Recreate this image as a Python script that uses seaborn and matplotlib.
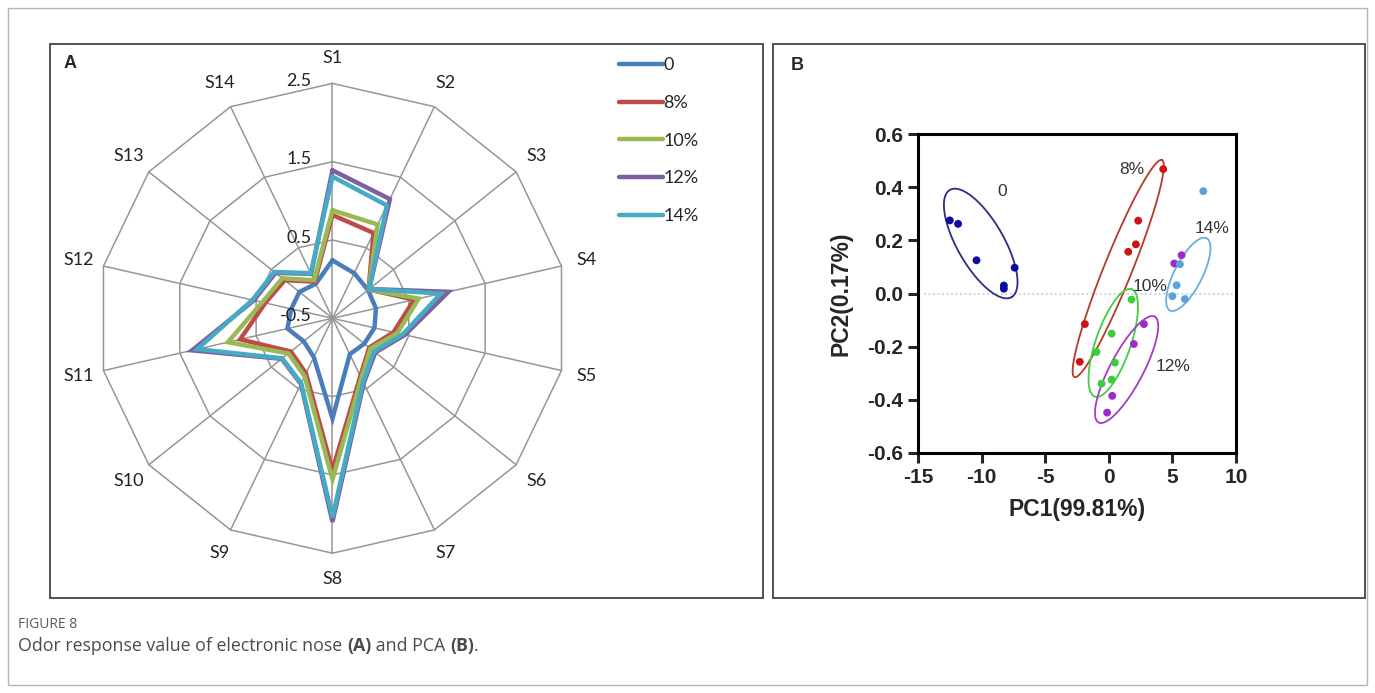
import numpy as np
import pandas as pd
import matplotlib
matplotlib.use("Agg")
import matplotlib.pyplot as plt
from matplotlib.patches import Rectangle
import seaborn as sns

sns.set_style("white")
plt.rcParams['font.family'] = ['Liberation Sans', 'DejaVu Sans']
plt.rcParams['axes.unicode_minus'] = False

# ---- panel A: e-nose radar data ----
sensors = ["S1", "S2", "S3", "S4", "S5", "S6", "S7", "S8", "S9", "S10", "S11", "S12", "S13", "S14"]
groups = ["0", "8%", "10%", "12%", "14%"]
val_0 = [0.24, 0.14, 0.08, 0.07, 0.05, 0.02, 0.01, 0.78, 0.05, -0.03, 0.09, 0.04, 0.04, -0.01]
val_8 = [0.82, 0.71, 0.09, 0.57, 0.30, 0.10, 0.32, 1.44, 0.28, 0.18, 0.71, 0.38, 0.28, 0.02]
val_10 = [0.88, 0.83, 0.09, 0.63, 0.35, 0.12, 0.35, 1.56, 0.32, 0.22, 0.87, 0.42, 0.32, 0.04]
val_12 = [1.39, 1.19, 0.10, 1.02, 0.45, 0.20, 0.42, 2.10, 0.43, 0.33, 1.34, 0.53, 0.43, 0.13]
val_14 = [1.31, 1.10, 0.10, 0.92, 0.42, 0.18, 0.40, 2.04, 0.42, 0.32, 1.27, 0.55, 0.45, 0.14]
ring_vals = [-0.5, 0.5, 1.5, 2.5]
radar_colors = ["#4a7ebb", "#be4b48", "#98b954", "#7d60a0", "#46aac5"]

# ---- panel B: PCA scores ----
pc1_0 = [-12.5, -11.85, -10.4, -8.25, -8.25, -7.4]
pc2_0 = [0.275, 0.262, 0.125, 0.030, 0.018, 0.097]
pc1_8 = [4.28, 2.31, 2.13, 1.53, -1.88, -2.28]
pc2_8 = [0.468, 0.274, 0.185, 0.157, -0.115, -0.257]
pc1_10 = [1.79, 0.22, -0.97, 0.48, 0.22, -0.57]
pc2_10 = [-0.023, -0.151, -0.22, -0.26, -0.324, -0.339]
pc1_12 = [2.76, 1.97, 0.27, -0.13, 5.15, 5.72]
pc2_12 = [-0.115, -0.19, -0.385, -0.448, 0.113, 0.144]
pc1_14 = [7.43, 5.59, 5.33, 5.0, 5.98]
pc2_14 = [0.385, 0.11, 0.031, -0.01, -0.021]
# ellipses: centre (data), semi-axes (fraction of axes box), angle (deg on screen)
ell_cx = [-10.07, 0.74, 0.35, 1.40, 6.25]
ell_cy = [0.188, 0.094, -0.186, -0.286, 0.072]
ell_a = [0.194, 0.367, 0.178, 0.188, 0.127]
ell_b = [0.073, 0.044, 0.055, 0.052, 0.044]
ell_ang = [-60, 68, 71, 62, 63]
lab_x = [-8.36, 1.79, 3.23, 5.02, 8.08]
lab_y = [0.383, 0.467, 0.025, -0.276, 0.245]
pt_colors = ["#0c0c9c", "#cc1414", "#3ccc3c", "#9a2ccc", "#5aa2e0"]
ell_colors = ["#2c2c84", "#b8382a", "#44cc44", "#a43cc4", "#6aaede"]

W, H = 1375, 693
fig = plt.figure(figsize=(W / 100, H / 100), dpi=100)


def px_rect(l, t, r, b):
    return [l / W, 1 - b / H, (r - l) / W, (b - t) / H]


def frame(l, t, r, b, color, lw):
    fig.patches.append(Rectangle((l / W, 1 - b / H), (r - l) / W, (b - t) / H,
                                 transform=fig.transFigure, fill=False,
                                 ec=color, lw=lw))


frame(8, 8, 1367, 685, "#b5b5b5", 1)
frame(50, 44, 763, 598, "#505050", 1.4)
frame(773, 44, 1365, 598, "#505050", 1.4)

# ---- radar ----
axA = fig.add_axes(px_rect(52, 46, 612, 596))
axA.set_xlim(-3.582, 3.570)
axA.set_ylim(-3.547, 3.478)
axA.axis("off")

theta = np.arange(len(sensors)) * 2 * np.pi / len(sensors)
th_closed = np.append(theta, theta[0])
rmin = ring_vals[0]
for rv in ring_vals[1:]:
    r = rv - rmin
    axA.plot(r * np.sin(th_closed), r * np.cos(th_closed), color="#969696", lw=1.1, zorder=1)
rmax = ring_vals[-1] - rmin
for th in theta:
    axA.plot([0, rmax * np.sin(th)], [0, rmax * np.cos(th)], color="#969696", lw=1.1, zorder=1)
for rv in ring_vals:
    axA.text(-0.27, rv - rmin + 0.03, f"{rv:g}", ha="right", va="center",
             fontsize=13, family=["Lato", "DejaVu Sans"], color="#222222", zorder=5)
for name, th in zip(sensors, theta):
    axA.text(3.33 * np.sin(th), 3.33 * np.cos(th), name, ha="center", va="center",
             fontsize=13, family=["Lato", "DejaVu Sans"], color="#222222")

handles = []
for vals, g, c in zip([val_0, val_8, val_10, val_12, val_14], groups, radar_colors):
    r = np.append(np.array(vals), vals[0]) - rmin
    ln, = axA.plot(r * np.sin(th_closed), r * np.cos(th_closed), color=c, lw=3.2,
                   solid_joinstyle="miter", zorder=3, label=g)
    handles.append(ln)

fig.legend(handles, groups, loc="upper left", bbox_to_anchor=(612 / W, 1 - 50 / H),
           frameon=False, handlelength=2.4, handletextpad=0.05,
           labelspacing=1.2, borderaxespad=0,
           prop={"family": ["Lato", "DejaVu Sans"], "size": 13})

fig.text(64 / W, 1 - 64 / H, "A", fontsize=13, weight="bold", va="center")
fig.text(791 / W, 1 - 66 / H, "B", fontsize=13, weight="bold", va="center")

# ---- PCA ----
axB = fig.add_axes(px_rect(918, 134, 1236, 453))
rows = []
for g, xs, ys in zip(groups, [pc1_0, pc1_8, pc1_10, pc1_12, pc1_14],
                     [pc2_0, pc2_8, pc2_10, pc2_12, pc2_14]):
    for x, y in zip(xs, ys):
        rows.append((g, x, y))
df = pd.DataFrame(rows, columns=["group", "PC1", "PC2"])
axB.axhline(0, xmin=0.02, xmax=1, color="#cfcfcf", lw=1.3, ls=(0, (1, 1.5)), zorder=0)
sns.scatterplot(data=df, x="PC1", y="PC2", hue="group", palette=dict(zip(groups, pt_colors)),
                s=32, linewidth=0, legend=False, ax=axB, zorder=3)

t = np.linspace(0, 2 * np.pi, 300)
for cx, cy, a, b, ang, c in zip(ell_cx, ell_cy, ell_a, ell_b, ell_ang, ell_colors):
    phi = np.deg2rad(ang)
    u, v = a * np.cos(t), b * np.sin(t)
    U = u * np.cos(phi) - v * np.sin(phi)
    V = u * np.sin(phi) + v * np.cos(phi)
    axB.plot(cx + U * 25, cy + V * 1.2, color=c, lw=1.3, zorder=2)
for g, x, y in zip(groups, lab_x, lab_y):
    axB.text(x, y, g, fontsize=12.5, color="#333333", ha="center", va="center")

axB.set_xlim(-15, 10)
axB.set_ylim(-0.6, 0.6)
axB.set_xticks(np.arange(-15, 11, 5))
axB.set_yticks(np.round(np.arange(-0.6, 0.61, 0.2), 1))
axB.set_yticklabels([f"{v:.1f}" for v in np.round(np.arange(-0.6, 0.61, 0.2), 1)])
for sp in axB.spines.values():
    sp.set_linewidth(2.2)
    sp.set_color("black")
axB.tick_params(direction="out", length=7, width=2.2, labelsize=15, pad=4,
                bottom=True, left=True, right=False, top=False)
for lab in axB.get_xticklabels() + axB.get_yticklabels():
    lab.set_fontweight("bold")
axB.set_xlabel("PC1(99.81%)", fontsize=16.5, weight="bold", labelpad=8)
axB.set_ylabel("PC2(0.17%)", fontsize=16.5, weight="bold", labelpad=10)

# ---- caption ----
cap_font = ["Open Sans", "DejaVu Sans"]
fig.text(18 / W, 1 - 625 / H, "FIGURE 8", fontsize=10, color="#5a5a5a",
         va="center", family=cap_font)
renderer = fig.canvas.get_renderer()
x = 18
for piece, bold in [("Odor response value of electronic nose ", False), ("(A)", True),
                    (" and PCA ", False), ("(B)", True), (".", False)]:
    tx = fig.text(x / W, 1 - 646 / H, piece, fontsize=12.8, color="#4a4a4a", va="center",
                  family=cap_font, weight="bold" if bold else "normal")
    x += tx.get_window_extent(renderer).width

fig.savefig("out.png", dpi=100)
